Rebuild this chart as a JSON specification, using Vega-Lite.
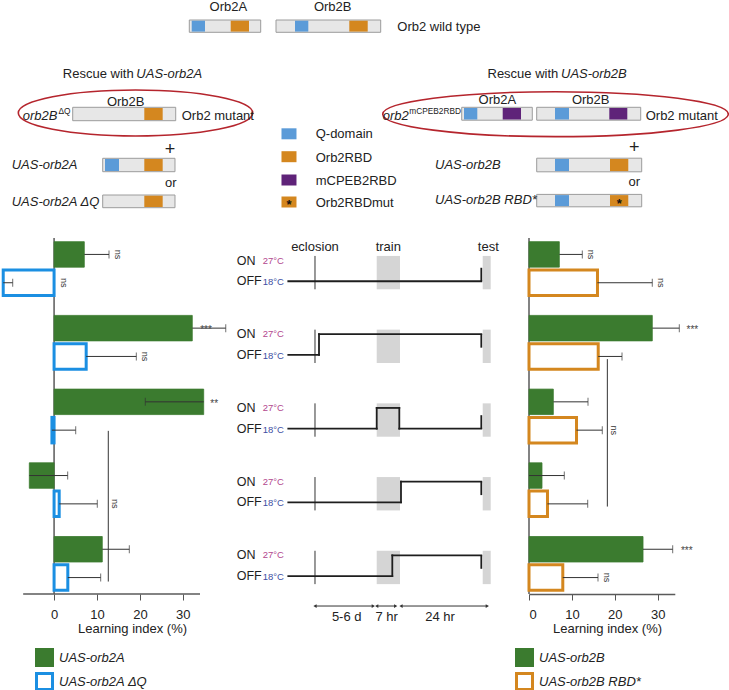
{
"$schema": "https://vega.github.io/schema/vega-lite/v6.json",
"background": "white",
"padding": 0,
"bounds": "flush",
"spacing": 0,
"config": {"view": {"stroke": null}, "font": "Liberation Sans"},
"vconcat": [
{
 "width": 729, "height": 238,
 "data": {"values": [
  {"kind":"ring","side":"left","x":45.17,"y":56.5},
  {"kind":"ring","side":"right","x":185.17,"y":57.1},
  {"kind":"box","x0":63.1,"x1":86.9,"y0":10,"y1":16.15},
  {"kind":"box","x0":92.0,"x1":126.9,"y0":10,"y1":16.15},
  {"kind":"box","x0":24.23,"x1":58.57,"y0":53.65,"y1":60.35},
  {"kind":"box","x0":34.23,"x1":58.33,"y0":79.15,"y1":85.85},
  {"kind":"box","x0":34.23,"x1":58.33,"y0":97.5,"y1":103.85},
  {"kind":"box","x0":153.9,"x1":177.43,"y0":53.65,"y1":60.1},
  {"kind":"box","x0":178.9,"x1":213.57,"y0":53.65,"y1":60.1},
  {"kind":"box","x0":178.9,"x1":213.9,"y0":79.1,"y1":85.9},
  {"kind":"box","x0":178.9,"x1":213.9,"y0":97.2,"y1":103.4},
  {"kind":"dom","d":"Q-domain","x0":63.9,"x1":68.33,"y0":10.35,"y1":15.8},
  {"kind":"dom","d":"Orb2RBD","x0":76.9,"x1":83.0,"y0":10.35,"y1":15.8},
  {"kind":"dom","d":"Q-domain","x0":98.33,"x1":102.77,"y0":10.35,"y1":15.8},
  {"kind":"dom","d":"Orb2RBD","x0":116.43,"x1":122.57,"y0":10.35,"y1":15.8},
  {"kind":"dom","d":"Orb2RBD","x0":48.1,"x1":54.23,"y0":54.0,"y1":60.0},
  {"kind":"dom","d":"Q-domain","x0":35.0,"x1":39.67,"y0":79.5,"y1":85.5},
  {"kind":"dom","d":"Orb2RBD","x0":48.1,"x1":54.23,"y0":79.5,"y1":85.5},
  {"kind":"dom","d":"Orb2RBD","x0":48.1,"x1":54.23,"y0":97.85,"y1":103.5},
  {"kind":"dom","d":"Q-domain","x0":154.67,"x1":159.1,"y0":54.0,"y1":59.75},
  {"kind":"dom","d":"mCPEB2RBD","x0":167.57,"x1":173.67,"y0":54.0,"y1":59.75},
  {"kind":"dom","d":"Q-domain","x0":185.0,"x1":189.67,"y0":54.0,"y1":59.75},
  {"kind":"dom","d":"mCPEB2RBD","x0":203.1,"x1":209.1,"y0":54.0,"y1":59.75},
  {"kind":"dom","d":"Q-domain","x0":185.0,"x1":189.67,"y0":79.45,"y1":85.55},
  {"kind":"dom","d":"Orb2RBD","x0":203.33,"x1":209.43,"y0":79.45,"y1":85.55},
  {"kind":"dom","d":"Q-domain","x0":185.0,"x1":189.67,"y0":97.55,"y1":103.05},
  {"kind":"dom","d":"Orb2RBDmut","x0":203.33,"x1":209.43,"y0":97.55,"y1":103.05},
  {"kind":"dom","d":"Q-domain","x0":93.83,"x1":98.83,"y0":64.15,"y1":69.65},
  {"kind":"dom","d":"Orb2RBD","x0":93.83,"x1":98.83,"y0":75.6,"y1":81.1},
  {"kind":"dom","d":"mCPEB2RBD","x0":93.83,"x1":98.83,"y0":87.25,"y1":92.75},
  {"kind":"dom","d":"Orb2RBDmut","x0":93.83,"x1":98.83,"y0":98.25,"y1":103.75},
  {"kind":"text","role":"heading","label":"Orb2A","x":76.1,"y":3.5},
  {"kind":"text","role":"heading","label":"Orb2B","x":110.9,"y":3.5},
  {"kind":"text","role":"heading","label":"Orb2B","x":41.9,"y":51.0},
  {"kind":"text","role":"heading","label":"Orb2A","x":165.77,"y":50.0},
  {"kind":"text","role":"heading","label":"Orb2B","x":196.9,"y":50.0},
  {"kind":"text","role":"heading","label":"or","x":56.9,"y":91.65},
  {"kind":"text","role":"heading","label":"or","x":211.43,"y":91.15},
  {"kind":"text","role":"plus","label":"+","x":56.67,"y":75.0},
  {"kind":"text","role":"plus","label":"+","x":211.43,"y":73.85},
  {"kind":"text","role":"caption","label":"Orb2 wild type","x":132.43,"y":13.65},
  {"kind":"text","role":"caption","label":"Orb2 mutant","x":60.57,"y":58.0},
  {"kind":"text","role":"caption","label":"Orb2 mutant","x":215.23,"y":58.0},
  {"kind":"text","role":"caption","label":"Q-domain","x":105.23,"y":67.15},
  {"kind":"text","role":"caption","label":"Orb2RBD","x":105.23,"y":79.15},
  {"kind":"text","role":"caption","label":"mCPEB2RBD","x":105.23,"y":90.35},
  {"kind":"text","role":"caption","label":"Orb2RBDmut","x":105.23,"y":101.65},
  {"kind":"text","role":"rescue","label":"Rescue with","x":44.55,"y":37.15},
  {"kind":"text","role":"rescue","label":"Rescue with","x":186.1,"y":37.15},
  {"kind":"text","role":"genotype","label":"UAS-orb2A","x":45.45,"y":37.15},
  {"kind":"text","role":"genotype","label":"UAS-orb2B","x":187.0,"y":37.15},
  {"kind":"text","role":"genotype","label":"UAS-orb2A","x":3.9,"y":82.5},
  {"kind":"text","role":"genotype","label":"UAS-orb2A ΔQ","x":3.9,"y":100.85},
  {"kind":"text","role":"genotype","label":"UAS-orb2B","x":145.0,"y":82.5},
  {"kind":"text","role":"genotype","label":"UAS-orb2B RBD*","x":145.0,"y":100.0},
  {"kind":"text","role":"allele","label":"orb2B","x":19.17,"y":58.0},
  {"kind":"text","role":"allele","label":"orb2","x":136.27,"y":58.0},
  {"kind":"text","role":"superscript","label":"ΔQ","x":19.5,"y":55.75},
  {"kind":"text","role":"superscript","label":"mCPEB2RBD","x":136.43,"y":55.75},
  {"kind":"text","role":"mutmark","label":"*","x":96.33,"y":101.0},
  {"kind":"text","role":"mutmark","label":"*","x":206.43,"y":100.25}
 ]},
 "layer": [
  {"transform":[{"filter":"datum.kind==='ring' && datum.side==='left'"}],
   "mark":{"type":"point","shape":"M-1,0A1,0.196,0,1,1,1,0A1,0.196,0,1,1,-1,0Z","size":54943,"filled":false,"stroke":"#b5252d","strokeWidth":1.6,"opacity":1},
   "encoding":{"x":{"field":"x","type":"quantitative","scale":{"domain":[0,243],"nice":false,"zero":false},"axis":null},
               "y":{"field":"y","type":"quantitative","scale":{"domain":[0,119],"nice":false,"zero":false,"reverse":true},"axis":null}}},
  {"transform":[{"filter":"datum.kind==='ring' && datum.side==='right'"}],
   "mark":{"type":"point","shape":"M-1,0A1,0.13,0,1,1,1,0A1,0.13,0,1,1,-1,0Z","size":119439,"filled":false,"stroke":"#b5252d","strokeWidth":1.6,"opacity":1},
   "encoding":{"x":{"field":"x","type":"quantitative","scale":{"domain":[0,243],"nice":false,"zero":false},"axis":null},
               "y":{"field":"y","type":"quantitative","scale":{"domain":[0,119],"nice":false,"zero":false,"reverse":true},"axis":null}}},
  {"transform":[{"filter":"datum.kind==='box'"}],
   "mark":{"type":"rect","fill":"#e7e7e7","stroke":"#9c9c9c","strokeWidth":1},
   "encoding":{"x":{"field":"x0","type":"quantitative","scale":{"domain":[0,243],"nice":false,"zero":false},"axis":null},"x2":{"field":"x1"},
               "y":{"field":"y0","type":"quantitative","scale":{"domain":[0,119],"nice":false,"zero":false,"reverse":true},"axis":null},"y2":{"field":"y1"}}},
  {"transform":[{"filter":"datum.kind==='dom'"}],
   "mark":{"type":"rect"},
   "encoding":{"x":{"field":"x0","type":"quantitative","scale":{"domain":[0,243],"nice":false,"zero":false},"axis":null},"x2":{"field":"x1"},
               "y":{"field":"y0","type":"quantitative","scale":{"domain":[0,119],"nice":false,"zero":false,"reverse":true},"axis":null},"y2":{"field":"y1"},
               "color":{"field":"d","type":"nominal","scale":{"domain":["Q-domain","Orb2RBD","mCPEB2RBD","Orb2RBDmut"],"range":["#5b9bd8","#d4871f","#5f2379","#d4871f"]},"legend":null}}},
  {"transform":[{"filter":"datum.role==='heading'"}],
   "mark":{"type":"text","fontSize":13,"color":"#222"},
   "encoding":{"x":{"field":"x","type":"quantitative","scale":{"domain":[0,243],"nice":false,"zero":false},"axis":null},
               "y":{"field":"y","type":"quantitative","scale":{"domain":[0,119],"nice":false,"zero":false,"reverse":true},"axis":null},"text":{"field":"label"}}},
  {"transform":[{"filter":"datum.role==='plus'"}],
   "mark":{"type":"text","fontSize":18,"color":"#222"},
   "encoding":{"x":{"field":"x","type":"quantitative","scale":{"domain":[0,243],"nice":false,"zero":false},"axis":null},
               "y":{"field":"y","type":"quantitative","scale":{"domain":[0,119],"nice":false,"zero":false,"reverse":true},"axis":null},"text":{"field":"label"}}},
  {"transform":[{"filter":"datum.role==='caption'"}],
   "mark":{"type":"text","fontSize":13,"color":"#222","align":"left"},
   "encoding":{"x":{"field":"x","type":"quantitative","scale":{"domain":[0,243],"nice":false,"zero":false},"axis":null},
               "y":{"field":"y","type":"quantitative","scale":{"domain":[0,119],"nice":false,"zero":false,"reverse":true},"axis":null},"text":{"field":"label"}}},
  {"transform":[{"filter":"datum.role==='rescue'"}],
   "mark":{"type":"text","fontSize":13,"color":"#222","align":"right"},
   "encoding":{"x":{"field":"x","type":"quantitative","scale":{"domain":[0,243],"nice":false,"zero":false},"axis":null},
               "y":{"field":"y","type":"quantitative","scale":{"domain":[0,119],"nice":false,"zero":false,"reverse":true},"axis":null},"text":{"field":"label"}}},
  {"transform":[{"filter":"datum.role==='genotype'"}],
   "mark":{"type":"text","fontSize":13,"color":"#222","align":"left","fontStyle":"italic"},
   "encoding":{"x":{"field":"x","type":"quantitative","scale":{"domain":[0,243],"nice":false,"zero":false},"axis":null},
               "y":{"field":"y","type":"quantitative","scale":{"domain":[0,119],"nice":false,"zero":false,"reverse":true},"axis":null},"text":{"field":"label"}}},
  {"transform":[{"filter":"datum.role==='allele'"}],
   "mark":{"type":"text","fontSize":13,"color":"#222","align":"right","fontStyle":"italic"},
   "encoding":{"x":{"field":"x","type":"quantitative","scale":{"domain":[0,243],"nice":false,"zero":false},"axis":null},
               "y":{"field":"y","type":"quantitative","scale":{"domain":[0,119],"nice":false,"zero":false,"reverse":true},"axis":null},"text":{"field":"label"}}},
  {"transform":[{"filter":"datum.role==='superscript'"}],
   "mark":{"type":"text","fontSize":8.3,"color":"#222","align":"left"},
   "encoding":{"x":{"field":"x","type":"quantitative","scale":{"domain":[0,243],"nice":false,"zero":false},"axis":null},
               "y":{"field":"y","type":"quantitative","scale":{"domain":[0,119],"nice":false,"zero":false,"reverse":true},"axis":null},"text":{"field":"label"}}},
  {"transform":[{"filter":"datum.role==='mutmark'"}],
   "mark":{"type":"text","fontSize":13,"color":"#111","fontWeight":"bold","dy":3},
   "encoding":{"x":{"field":"x","type":"quantitative","scale":{"domain":[0,243],"nice":false,"zero":false},"axis":null},
               "y":{"field":"y","type":"quantitative","scale":{"domain":[0,119],"nice":false,"zero":false,"reverse":true},"axis":null},"text":{"field":"label"}}}
 ]
},
{
 "resolve": {"scale": {"yOffset": "independent", "fill": "independent", "stroke": "independent", "color": "independent"},
             "legend": {"fill": "independent", "stroke": "independent"}},
 "hconcat": [
 {
  "width": 200, "height": 356,
  "data": {"values": [
   {"g":"P1","series":"UAS-orb2A","mean":7.04,"lo":7.04,"hi":12.8},
   {"g":"P1","series":"UAS-orb2A ΔQ","mean":-11.85,"lo":-11.85,"hi":-9.64},
   {"g":"P2","series":"UAS-orb2A","mean":32.2,"lo":32.2,"hi":40.0},
   {"g":"P2","series":"UAS-orb2A ΔQ","mean":7.48,"lo":7.48,"hi":19.16},
   {"g":"P3","series":"UAS-orb2A","mean":34.86,"lo":34.86,"hi":21.25},
   {"g":"P3","series":"UAS-orb2A ΔQ","mean":-0.5,"lo":-0.5,"hi":5.04},
   {"g":"P4","series":"UAS-orb2A","mean":-5.77,"lo":-5.77,"hi":3.17},
   {"g":"P4","series":"UAS-orb2A ΔQ","mean":1.19,"lo":1.19,"hi":10.07},
   {"g":"P5","series":"UAS-orb2A","mean":11.23,"lo":11.23,"hi":17.53},
   {"g":"P5","series":"UAS-orb2A ΔQ","mean":3.2,"lo":3.2,"hi":10.86}
  ]},
  "layer": [
   {"data":{"values":[{"v":0}]},"mark":{"type":"rule","color":"#5a5a5a","strokeWidth":1.5},
    "encoding":{"x":{"field":"v","type":"quantitative","scale":{"domain":[-12.6,34],"nice":false,"zero":false},
      "axis":{"values":[0,10,20,30],"domain":false,"title":"Learning index (%)","titleX":132,"tickSize":6,"tickColor":"#555","labelPadding":8,"titlePadding":1,"labelFontSize":13,"titleFontSize":13,"titleFontWeight":"normal","labelColor":"#222","titleColor":"#222","grid":false}}}},
   {"data":{"values":[{"a":-7.2,"b":34}]},"mark":{"type":"rule","color":"#5a5a5a","strokeWidth":1.5},
    "encoding":{"x":{"field":"a","type":"quantitative","scale":{"domain":[-12.6,34],"nice":false,"zero":false},
      "axis":{"values":[0,10,20,30],"domain":false,"title":"Learning index (%)","titleX":132,"tickSize":6,"tickColor":"#555","labelPadding":8,"titlePadding":1,"labelFontSize":13,"titleFontSize":13,"titleFontWeight":"normal","labelColor":"#222","titleColor":"#222","grid":false}},
     "x2":{"field":"b"},"y":{"value":"height"}}},
   {"mark":{"type":"bar"},
    "encoding":{
     "y":{"field":"g","type":"nominal","scale":{"domain":["P1","P2","P3","P4","P5"],"paddingInner":0.27,"paddingOuter":0.05},"axis":null},
     "yOffset":{"field":"series","type":"nominal","scale":{"domain":["UAS-orb2A","UAS-orb2A ΔQ"],"paddingInner":0.1,"range":[0,53.8]}},
     "x":{"field":"mean","type":"quantitative","scale":{"domain":[-12.6,34],"nice":false,"zero":false},"stack":null,
      "axis":{"values":[0,10,20,30],"domain":false,"title":"Learning index (%)","titleX":132,"tickSize":6,"tickColor":"#555","labelPadding":8,"titlePadding":1,"labelFontSize":13,"titleFontSize":13,"titleFontWeight":"normal","labelColor":"#222","titleColor":"#222","grid":false}},
     "fill":{"field":"series","type":"nominal","scale":{"domain":["UAS-orb2A","UAS-orb2A ΔQ"],"range":["#3b7b2f","#ffffff"]},
             "legend":{"orient":"none","legendX":35,"legendY":410,"title":null,"symbolType":"square","symbolSize":256,"symbolStrokeWidth":3,"labelFontSize":13,"labelFontStyle":"italic","labelColor":"#222","labelOffset":5,"rowPadding":-8,"padding":0,"symbolOpacity":1}},
     "stroke":{"field":"series","type":"nominal","scale":{"domain":["UAS-orb2A","UAS-orb2A ΔQ"],"range":["#3b7b2f","#1b8fe2"]},
             "legend":{"orient":"none","legendX":35,"legendY":410,"title":null,"symbolType":"square","symbolSize":256,"symbolStrokeWidth":3,"labelFontSize":13,"labelFontStyle":"italic","labelColor":"#222","labelOffset":5,"rowPadding":-8,"padding":0,"symbolOpacity":1}},
     "strokeWidth":{"condition":{"test":"datum.series==='UAS-orb2A ΔQ'","value":3},"value":0.8}}},
   {"mark":{"type":"rule","color":"#333","strokeWidth":1},
    "encoding":{
     "y":{"field":"g","type":"nominal","scale":{"domain":["P1","P2","P3","P4","P5"],"paddingInner":0.27,"paddingOuter":0.05},"axis":null},
     "yOffset":{"field":"series","type":"nominal","scale":{"domain":["UAS-orb2A","UAS-orb2A ΔQ"],"paddingInner":0.1,"range":[0,53.8]}},
     "x":{"field":"lo","type":"quantitative","scale":{"domain":[-12.6,34],"nice":false,"zero":false},
      "axis":{"values":[0,10,20,30],"domain":false,"title":"Learning index (%)","titleX":132,"tickSize":6,"tickColor":"#555","labelPadding":8,"titlePadding":1,"labelFontSize":13,"titleFontSize":13,"titleFontWeight":"normal","labelColor":"#222","titleColor":"#222","grid":false}},"x2":{"field":"hi"}}},
   {"mark":{"type":"tick","color":"#333","thickness":1,"size":8},
    "encoding":{
     "y":{"field":"g","type":"nominal","scale":{"domain":["P1","P2","P3","P4","P5"],"paddingInner":0.27,"paddingOuter":0.05},"axis":null},
     "yOffset":{"field":"series","type":"nominal","scale":{"domain":["UAS-orb2A","UAS-orb2A ΔQ"],"paddingInner":0.1,"range":[0,53.8]}},
     "x":{"field":"hi","type":"quantitative","scale":{"domain":[-12.6,34],"nice":false,"zero":false},
      "axis":{"values":[0,10,20,30],"domain":false,"title":"Learning index (%)","titleX":132,"tickSize":6,"tickColor":"#555","labelPadding":8,"titlePadding":1,"labelFontSize":13,"titleFontSize":13,"titleFontWeight":"normal","labelColor":"#222","titleColor":"#222","grid":false}}}},
   {"data":{"values":[
     {"g":"P1","series":"UAS-orb2A","x":14.96,"label":"ns"},
     {"g":"P1","series":"UAS-orb2A ΔQ","x":2.36,"label":"ns"},
     {"g":"P2","series":"UAS-orb2A ΔQ","x":21.3,"label":"ns"},
     {"g":"P4","series":"UAS-orb2A ΔQ","x":14.3,"label":"ns"}
    ]},
    "mark":{"type":"text","angle":90,"fontSize":9,"color":"#333"},
    "encoding":{
     "y":{"field":"g","type":"nominal","scale":{"domain":["P1","P2","P3","P4","P5"],"paddingInner":0.27,"paddingOuter":0.05},"axis":null},
     "yOffset":{"field":"series","type":"nominal","scale":{"domain":["UAS-orb2A","UAS-orb2A ΔQ"],"paddingInner":0.1,"range":[0,53.8]}},
     "x":{"field":"x","type":"quantitative","scale":{"domain":[-12.6,34],"nice":false,"zero":false},
      "axis":{"values":[0,10,20,30],"domain":false,"title":"Learning index (%)","titleX":132,"tickSize":6,"tickColor":"#555","labelPadding":8,"titlePadding":1,"labelFontSize":13,"titleFontSize":13,"titleFontWeight":"normal","labelColor":"#222","titleColor":"#222","grid":false}},"text":{"field":"label"}}},
   {"data":{"values":[
     {"g":"P2","series":"UAS-orb2A","x":35.4,"label":"***"},
     {"g":"P3","series":"UAS-orb2A","x":37.3,"label":"**"}
    ]},
    "mark":{"type":"text","fontSize":10,"color":"#444","dy":2},
    "encoding":{
     "y":{"field":"g","type":"nominal","scale":{"domain":["P1","P2","P3","P4","P5"],"paddingInner":0.27,"paddingOuter":0.05},"axis":null},
     "yOffset":{"field":"series","type":"nominal","scale":{"domain":["UAS-orb2A","UAS-orb2A ΔQ"],"paddingInner":0.1,"range":[0,53.8]}},
     "x":{"field":"x","type":"quantitative","scale":{"domain":[-12.6,34],"nice":false,"zero":false},
      "axis":{"values":[0,10,20,30],"domain":false,"title":"Learning index (%)","titleX":132,"tickSize":6,"tickColor":"#555","labelPadding":8,"titlePadding":1,"labelFontSize":13,"titleFontSize":13,"titleFontWeight":"normal","labelColor":"#222","titleColor":"#222","grid":false}},"text":{"field":"label"}}},
   {"data":{"values":[{"x":12.63,"from":"P3","to":"P5"}]},
    "mark":{"type":"rule","color":"#333","strokeWidth":1},
    "encoding":{
     "x":{"field":"x","type":"quantitative","scale":{"domain":[-12.6,34],"nice":false,"zero":false},
      "axis":{"values":[0,10,20,30],"domain":false,"title":"Learning index (%)","titleX":132,"tickSize":6,"tickColor":"#555","labelPadding":8,"titlePadding":1,"labelFontSize":13,"titleFontSize":13,"titleFontWeight":"normal","labelColor":"#222","titleColor":"#222","grid":false}},
     "y":{"field":"from","type":"nominal","scale":{"domain":["P1","P2","P3","P4","P5"],"paddingInner":0.27,"paddingOuter":0.05},"bandPosition":0.776,"axis":null},
     "y2":{"field":"to","bandPosition":0.837}}}
  ]
 },
 {
  "width": 329, "height": 356,
  "data": {"values": [
   {"kind":"shade","g":"P1","t0":53.71,"t1":60.79},{"kind":"shade","g":"P1","t0":85.93,"t1":88.36},
   {"kind":"shade","g":"P2","t0":53.71,"t1":60.79},{"kind":"shade","g":"P2","t0":85.93,"t1":88.36},
   {"kind":"shade","g":"P3","t0":53.71,"t1":60.79},{"kind":"shade","g":"P3","t0":85.93,"t1":88.36},
   {"kind":"shade","g":"P4","t0":53.71,"t1":60.79},{"kind":"shade","g":"P4","t0":85.93,"t1":88.36},
   {"kind":"shade","g":"P5","t0":53.71,"t1":60.79},{"kind":"shade","g":"P5","t0":85.93,"t1":88.36},
   {"kind":"ecl","g":"P1","t":34.95},{"kind":"ecl","g":"P2","t":34.95},{"kind":"ecl","g":"P3","t":34.95},{"kind":"ecl","g":"P4","t":34.95},{"kind":"ecl","g":"P5","t":34.95},
   {"kind":"hold","g":"P1","state":"OFF","t0":26.84,"t1":85.5},
   {"kind":"hold","g":"P2","state":"OFF","t0":26.84,"t1":36.17},{"kind":"hold","g":"P2","state":"ON","t0":36.17,"t1":85.5},
   {"kind":"hold","g":"P3","state":"OFF","t0":26.84,"t1":53.71},{"kind":"hold","g":"P3","state":"ON","t0":53.71,"t1":60.58},{"kind":"hold","g":"P3","state":"OFF","t0":60.58,"t1":85.5},
   {"kind":"hold","g":"P4","state":"OFF","t0":26.84,"t1":61.09},{"kind":"hold","g":"P4","state":"ON","t0":61.09,"t1":85.5},
   {"kind":"hold","g":"P5","state":"OFF","t0":26.84,"t1":58.45},{"kind":"hold","g":"P5","state":"ON","t0":58.45,"t1":85.5},
   {"kind":"switch","g":"P2","t":36.17},{"kind":"switch","g":"P3","t":53.71},{"kind":"switch","g":"P3","t":60.58},{"kind":"switch","g":"P4","t":61.09},{"kind":"switch","g":"P5","t":58.45},
   {"kind":"test","g":"P1","from":"OFF","t":85.5},{"kind":"test","g":"P2","from":"ON","t":85.5},{"kind":"test","g":"P3","from":"OFF","t":85.5},{"kind":"test","g":"P4","from":"ON","t":85.5},{"kind":"test","g":"P5","from":"ON","t":85.5},
   {"kind":"state","g":"P1","state":"ON","temp":"27°C"},{"kind":"state","g":"P1","state":"OFF","temp":"18°C"},
   {"kind":"state","g":"P2","state":"ON","temp":"27°C"},{"kind":"state","g":"P2","state":"OFF","temp":"18°C"},
   {"kind":"state","g":"P3","state":"ON","temp":"27°C"},{"kind":"state","g":"P3","state":"OFF","temp":"18°C"},
   {"kind":"state","g":"P4","state":"ON","temp":"27°C"},{"kind":"state","g":"P4","state":"OFF","temp":"18°C"},
   {"kind":"state","g":"P5","state":"ON","temp":"27°C"},{"kind":"state","g":"P5","state":"OFF","temp":"18°C"},
   {"kind":"event","label":"eclosion","t":34.95},{"kind":"event","label":"train","t":57.23},{"kind":"event","label":"test","t":87.63},
   {"kind":"span","label":"5-6 d","t0":34.95,"t1":52.68,"tm":44.59},
   {"kind":"span","label":"7 hr","t0":53.71,"t1":59.48,"tm":56.75},
   {"kind":"span","label":"24 hr","t0":61.09,"t1":87.33,"tm":72.95}
  ]},
  "layer": [
   {"transform":[{"filter":"datum.kind==='shade'"}],
    "mark":{"type":"rect","color":"#d5d5d5"},
    "encoding":{"x":{"field":"t0","type":"quantitative","scale":{"domain":[0,100],"nice":false,"zero":false},"axis":null},"x2":{"field":"t1"},
     "y":{"field":"g","type":"nominal","scale":{"domain":["P1","P2","P3","P4","P5"],"paddingInner":0.27,"paddingOuter":0.05},"bandPosition":0.265,"axis":null},
     "y2":{"field":"g","bandPosition":0.885}}},
   {"transform":[{"filter":"datum.kind==='ecl'"}],
    "mark":{"type":"rule","color":"#333","strokeWidth":1},
    "encoding":{"x":{"field":"t","type":"quantitative","scale":{"domain":[0,100],"nice":false,"zero":false},"axis":null},
     "y":{"field":"g","type":"nominal","scale":{"domain":["P1","P2","P3","P4","P5"],"paddingInner":0.27,"paddingOuter":0.05},"bandPosition":0.265,"axis":null},
     "y2":{"field":"g","bandPosition":0.885}}},
   {"transform":[{"filter":"datum.kind==='hold' && datum.state==='OFF'"}],
    "mark":{"type":"rule","color":"#1e1e1e","strokeWidth":1.8,"strokeCap":"square"},
    "encoding":{"x":{"field":"t0","type":"quantitative","scale":{"domain":[0,100],"nice":false,"zero":false},"axis":null},"x2":{"field":"t1"},
     "y":{"field":"g","type":"nominal","scale":{"domain":["P1","P2","P3","P4","P5"],"paddingInner":0.27,"paddingOuter":0.05},"bandPosition":0.735,"axis":null}}},
   {"transform":[{"filter":"datum.kind==='hold' && datum.state==='ON'"}],
    "mark":{"type":"rule","color":"#1e1e1e","strokeWidth":1.8,"strokeCap":"square"},
    "encoding":{"x":{"field":"t0","type":"quantitative","scale":{"domain":[0,100],"nice":false,"zero":false},"axis":null},"x2":{"field":"t1"},
     "y":{"field":"g","type":"nominal","scale":{"domain":["P1","P2","P3","P4","P5"],"paddingInner":0.27,"paddingOuter":0.05},"bandPosition":0.35,"axis":null}}},
   {"transform":[{"filter":"datum.kind==='switch'"}],
    "mark":{"type":"rule","color":"#1e1e1e","strokeWidth":1.8,"strokeCap":"square"},
    "encoding":{"x":{"field":"t","type":"quantitative","scale":{"domain":[0,100],"nice":false,"zero":false},"axis":null},
     "y":{"field":"g","type":"nominal","scale":{"domain":["P1","P2","P3","P4","P5"],"paddingInner":0.27,"paddingOuter":0.05},"bandPosition":0.35,"axis":null},
     "y2":{"field":"g","bandPosition":0.735}}},
   {"transform":[{"filter":"datum.kind==='test' && datum.from==='OFF'"}],
    "mark":{"type":"rule","color":"#1e1e1e","strokeWidth":1.8},
    "encoding":{"x":{"field":"t","type":"quantitative","scale":{"domain":[0,100],"nice":false,"zero":false},"axis":null},
     "y":{"field":"g","type":"nominal","scale":{"domain":["P1","P2","P3","P4","P5"],"paddingInner":0.27,"paddingOuter":0.05},"bandPosition":0.735,"axis":null},
     "y2":{"field":"g","bandPosition":0.485}}},
   {"transform":[{"filter":"datum.kind==='test' && datum.from==='ON'"}],
    "mark":{"type":"rule","color":"#1e1e1e","strokeWidth":1.8},
    "encoding":{"x":{"field":"t","type":"quantitative","scale":{"domain":[0,100],"nice":false,"zero":false},"axis":null},
     "y":{"field":"g","type":"nominal","scale":{"domain":["P1","P2","P3","P4","P5"],"paddingInner":0.27,"paddingOuter":0.05},"bandPosition":0.35,"axis":null},
     "y2":{"field":"g","bandPosition":0.6}}},
   {"transform":[{"filter":"datum.kind==='state' && datum.state==='ON'"}],
    "mark":{"type":"text","align":"left","fontSize":12.5,"color":"#1e1e1e"},
    "encoding":{"x":{"datum":11.15,"type":"quantitative","scale":{"domain":[0,100],"nice":false,"zero":false},"axis":null},
     "y":{"field":"g","type":"nominal","scale":{"domain":["P1","P2","P3","P4","P5"],"paddingInner":0.27,"paddingOuter":0.05},"bandPosition":0.35,"axis":null},
     "text":{"field":"state"}}},
   {"transform":[{"filter":"datum.kind==='state' && datum.state==='OFF'"}],
    "mark":{"type":"text","align":"left","fontSize":12.5,"color":"#1e1e1e"},
    "encoding":{"x":{"datum":11.15,"type":"quantitative","scale":{"domain":[0,100],"nice":false,"zero":false},"axis":null},
     "y":{"field":"g","type":"nominal","scale":{"domain":["P1","P2","P3","P4","P5"],"paddingInner":0.27,"paddingOuter":0.05},"bandPosition":0.735,"axis":null},
     "text":{"field":"state"}}},
   {"transform":[{"filter":"datum.kind==='state' && datum.state==='ON'"}],
    "mark":{"type":"text","align":"left","fontSize":9.5,"color":"#b2478e"},
    "encoding":{"x":{"datum":19.06,"type":"quantitative","scale":{"domain":[0,100],"nice":false,"zero":false},"axis":null},
     "y":{"field":"g","type":"nominal","scale":{"domain":["P1","P2","P3","P4","P5"],"paddingInner":0.27,"paddingOuter":0.05},"bandPosition":0.35,"axis":null},
     "text":{"field":"temp"}}},
   {"transform":[{"filter":"datum.kind==='state' && datum.state==='OFF'"}],
    "mark":{"type":"text","align":"left","fontSize":9.5,"color":"#404ea3","dy":1},
    "encoding":{"x":{"datum":19.06,"type":"quantitative","scale":{"domain":[0,100],"nice":false,"zero":false},"axis":null},
     "y":{"field":"g","type":"nominal","scale":{"domain":["P1","P2","P3","P4","P5"],"paddingInner":0.27,"paddingOuter":0.05},"bandPosition":0.735,"axis":null},
     "text":{"field":"temp"}}},
   {"transform":[{"filter":"datum.kind==='event'"}],
    "mark":{"type":"text","fontSize":13,"color":"#222"},
    "encoding":{"x":{"field":"t","type":"quantitative","scale":{"domain":[0,100],"nice":false,"zero":false},"axis":null},
     "y":{"datum":"P1","type":"nominal","scale":{"domain":["P1","P2","P3","P4","P5"],"paddingInner":0.27,"paddingOuter":0.05},"bandPosition":0.098,"axis":null},
     "text":{"field":"label"}}},
   {"transform":[{"filter":"datum.kind==='span'"}],
    "mark":{"type":"rule","color":"#333","strokeWidth":1},
    "encoding":{"x":{"field":"t0","type":"quantitative","scale":{"domain":[0,100],"nice":false,"zero":false},"axis":null},"x2":{"field":"t1"},
     "y":{"datum":"P5","type":"nominal","scale":{"domain":["P1","P2","P3","P4","P5"],"paddingInner":0.27,"paddingOuter":0.05},"bandPosition":1.292,"axis":null}}},
   {"transform":[{"filter":"datum.kind==='span'"}],
    "mark":{"type":"point","shape":"triangle-left","filled":true,"size":14,"color":"#333","opacity":1},
    "encoding":{"x":{"field":"t0","type":"quantitative","scale":{"domain":[0,100],"nice":false,"zero":false},"axis":null},
     "y":{"datum":"P5","type":"nominal","scale":{"domain":["P1","P2","P3","P4","P5"],"paddingInner":0.27,"paddingOuter":0.05},"bandPosition":1.292,"axis":null}}},
   {"transform":[{"filter":"datum.kind==='span'"}],
    "mark":{"type":"point","shape":"triangle-right","filled":true,"size":14,"color":"#333","opacity":1},
    "encoding":{"x":{"field":"t1","type":"quantitative","scale":{"domain":[0,100],"nice":false,"zero":false},"axis":null},
     "y":{"datum":"P5","type":"nominal","scale":{"domain":["P1","P2","P3","P4","P5"],"paddingInner":0.27,"paddingOuter":0.05},"bandPosition":1.292,"axis":null}}},
   {"transform":[{"filter":"datum.kind==='span'"}],
    "mark":{"type":"text","fontSize":13,"color":"#222"},
    "encoding":{"x":{"field":"tm","type":"quantitative","scale":{"domain":[0,100],"nice":false,"zero":false},"axis":null},
     "y":{"datum":"P5","type":"nominal","scale":{"domain":["P1","P2","P3","P4","P5"],"paddingInner":0.27,"paddingOuter":0.05},"bandPosition":1.496,"axis":null},
     "text":{"field":"label"}}}
  ]
 },
 {
  "width": 145.8, "height": 356,
  "data": {"values": [
   {"g":"P1","series":"UAS-orb2B","mean":7.07,"lo":7.07,"hi":12.43},
   {"g":"P1","series":"UAS-orb2B RBD*","mean":15.97,"lo":15.97,"hi":28.75},
   {"g":"P2","series":"UAS-orb2B","mean":28.75,"lo":28.75,"hi":35.05},
   {"g":"P2","series":"UAS-orb2B RBD*","mean":16.14,"lo":16.14,"hi":21.69},
   {"g":"P3","series":"UAS-orb2B","mean":5.67,"lo":5.67,"hi":13.76},
   {"g":"P3","series":"UAS-orb2B RBD*","mean":11.08,"lo":11.08,"hi":17.09},
   {"g":"P4","series":"UAS-orb2B","mean":3.03,"lo":0,"hi":8.23},
   {"g":"P4","series":"UAS-orb2B RBD*","mean":4.31,"lo":4.31,"hi":13.69},
   {"g":"P5","series":"UAS-orb2B","mean":26.59,"lo":26.59,"hi":33.51},
   {"g":"P5","series":"UAS-orb2B RBD*","mean":7.88,"lo":7.88,"hi":16.09}
  ]},
  "layer": [
   {"data":{"values":[{"v":0}]},"mark":{"type":"rule","color":"#5a5a5a","strokeWidth":1.5},
    "encoding":{"x":{"field":"v","type":"quantitative","scale":{"domain":[0,34],"nice":false,"zero":false},
     "axis":{"values":[0,10,20,30],"domain":true,"domainColor":"#5a5a5a","domainWidth":1.5,"title":"Learning index (%)","titleX":78,"tickSize":6,"tickColor":"#555","labelPadding":8,"titlePadding":1,"labelFontSize":13,"titleFontSize":13,"titleFontWeight":"normal","labelColor":"#222","titleColor":"#222","grid":false}}}},
   {"mark":{"type":"bar"},
    "encoding":{
     "y":{"field":"g","type":"nominal","scale":{"domain":["P1","P2","P3","P4","P5"],"paddingInner":0.27,"paddingOuter":0.05},"axis":null},
     "yOffset":{"field":"series","type":"nominal","scale":{"domain":["UAS-orb2B","UAS-orb2B RBD*"],"paddingInner":0.1,"range":[0,53.8]}},
     "x":{"field":"mean","type":"quantitative","scale":{"domain":[0,34],"nice":false,"zero":false},"stack":null,
      "axis":{"values":[0,10,20,30],"domain":true,"domainColor":"#5a5a5a","domainWidth":1.5,"title":"Learning index (%)","titleX":78,"tickSize":6,"tickColor":"#555","labelPadding":8,"titlePadding":1,"labelFontSize":13,"titleFontSize":13,"titleFontWeight":"normal","labelColor":"#222","titleColor":"#222","grid":false}},
     "fill":{"field":"series","type":"nominal","scale":{"domain":["UAS-orb2B","UAS-orb2B RBD*"],"range":["#3b7b2f","#ffffff"]},
             "legend":{"orient":"none","legendX":-14,"legendY":410,"title":null,"symbolType":"square","symbolSize":256,"symbolStrokeWidth":3,"labelFontSize":13,"labelFontStyle":"italic","labelColor":"#222","labelOffset":5,"rowPadding":-8,"padding":0,"symbolOpacity":1}},
     "stroke":{"field":"series","type":"nominal","scale":{"domain":["UAS-orb2B","UAS-orb2B RBD*"],"range":["#3b7b2f","#d4871f"]},
             "legend":{"orient":"none","legendX":-14,"legendY":410,"title":null,"symbolType":"square","symbolSize":256,"symbolStrokeWidth":3,"labelFontSize":13,"labelFontStyle":"italic","labelColor":"#222","labelOffset":5,"rowPadding":-8,"padding":0,"symbolOpacity":1}},
     "strokeWidth":{"condition":{"test":"datum.series==='UAS-orb2B RBD*'","value":3},"value":0.8}}},
   {"mark":{"type":"rule","color":"#333","strokeWidth":1},
    "encoding":{
     "y":{"field":"g","type":"nominal","scale":{"domain":["P1","P2","P3","P4","P5"],"paddingInner":0.27,"paddingOuter":0.05},"axis":null},
     "yOffset":{"field":"series","type":"nominal","scale":{"domain":["UAS-orb2B","UAS-orb2B RBD*"],"paddingInner":0.1,"range":[0,53.8]}},
     "x":{"field":"lo","type":"quantitative","scale":{"domain":[0,34],"nice":false,"zero":false},
      "axis":{"values":[0,10,20,30],"domain":true,"domainColor":"#5a5a5a","domainWidth":1.5,"title":"Learning index (%)","titleX":78,"tickSize":6,"tickColor":"#555","labelPadding":8,"titlePadding":1,"labelFontSize":13,"titleFontSize":13,"titleFontWeight":"normal","labelColor":"#222","titleColor":"#222","grid":false}},"x2":{"field":"hi"}}},
   {"mark":{"type":"tick","color":"#333","thickness":1,"size":8},
    "encoding":{
     "y":{"field":"g","type":"nominal","scale":{"domain":["P1","P2","P3","P4","P5"],"paddingInner":0.27,"paddingOuter":0.05},"axis":null},
     "yOffset":{"field":"series","type":"nominal","scale":{"domain":["UAS-orb2B","UAS-orb2B RBD*"],"paddingInner":0.1,"range":[0,53.8]}},
     "x":{"field":"hi","type":"quantitative","scale":{"domain":[0,34],"nice":false,"zero":false},
      "axis":{"values":[0,10,20,30],"domain":true,"domainColor":"#5a5a5a","domainWidth":1.5,"title":"Learning index (%)","titleX":78,"tickSize":6,"tickColor":"#555","labelPadding":8,"titlePadding":1,"labelFontSize":13,"titleFontSize":13,"titleFontWeight":"normal","labelColor":"#222","titleColor":"#222","grid":false}}}},
   {"data":{"values":[
     {"g":"P1","series":"UAS-orb2B","x":14.5,"label":"ns"},
     {"g":"P1","series":"UAS-orb2B RBD*","x":30.8,"label":"ns"},
     {"g":"P3","series":"UAS-orb2B RBD*","x":19.9,"label":"ns"},
     {"g":"P5","series":"UAS-orb2B RBD*","x":18.2,"label":"ns"}
    ]},
    "mark":{"type":"text","angle":90,"fontSize":9,"color":"#333"},
    "encoding":{
     "y":{"field":"g","type":"nominal","scale":{"domain":["P1","P2","P3","P4","P5"],"paddingInner":0.27,"paddingOuter":0.05},"axis":null},
     "yOffset":{"field":"series","type":"nominal","scale":{"domain":["UAS-orb2B","UAS-orb2B RBD*"],"paddingInner":0.1,"range":[0,53.8]}},
     "x":{"field":"x","type":"quantitative","scale":{"domain":[0,34],"nice":false,"zero":false},
      "axis":{"values":[0,10,20,30],"domain":true,"domainColor":"#5a5a5a","domainWidth":1.5,"title":"Learning index (%)","titleX":78,"tickSize":6,"tickColor":"#555","labelPadding":8,"titlePadding":1,"labelFontSize":13,"titleFontSize":13,"titleFontWeight":"normal","labelColor":"#222","titleColor":"#222","grid":false}},"text":{"field":"label"}}},
   {"data":{"values":[
     {"g":"P2","series":"UAS-orb2B","x":38.1,"label":"***"},
     {"g":"P5","series":"UAS-orb2B","x":36.8,"label":"***"}
    ]},
    "mark":{"type":"text","fontSize":10,"color":"#444","dy":2},
    "encoding":{
     "y":{"field":"g","type":"nominal","scale":{"domain":["P1","P2","P3","P4","P5"],"paddingInner":0.27,"paddingOuter":0.05},"axis":null},
     "yOffset":{"field":"series","type":"nominal","scale":{"domain":["UAS-orb2B","UAS-orb2B RBD*"],"paddingInner":0.1,"range":[0,53.8]}},
     "x":{"field":"x","type":"quantitative","scale":{"domain":[0,34],"nice":false,"zero":false},
      "axis":{"values":[0,10,20,30],"domain":true,"domainColor":"#5a5a5a","domainWidth":1.5,"title":"Learning index (%)","titleX":78,"tickSize":6,"tickColor":"#555","labelPadding":8,"titlePadding":1,"labelFontSize":13,"titleFontSize":13,"titleFontWeight":"normal","labelColor":"#222","titleColor":"#222","grid":false}},"text":{"field":"label"}}},
   {"data":{"values":[{"x":18.27,"from":"P2","to":"P4"}]},
    "mark":{"type":"rule","color":"#333","strokeWidth":1},
    "encoding":{
     "x":{"field":"x","type":"quantitative","scale":{"domain":[0,34],"nice":false,"zero":false},
      "axis":{"values":[0,10,20,30],"domain":true,"domainColor":"#5a5a5a","domainWidth":1.5,"title":"Learning index (%)","titleX":78,"tickSize":6,"tickColor":"#555","labelPadding":8,"titlePadding":1,"labelFontSize":13,"titleFontSize":13,"titleFontWeight":"normal","labelColor":"#222","titleColor":"#222","grid":false}},
     "y":{"field":"from","type":"nominal","scale":{"domain":["P1","P2","P3","P4","P5"],"paddingInner":0.27,"paddingOuter":0.05},"bandPosition":0.813,"axis":null},
     "y2":{"field":"to","bandPosition":0.813}}}
  ]
 }
 ],
 "spacing": 0,
 "bounds": "flush"
}
]
}
